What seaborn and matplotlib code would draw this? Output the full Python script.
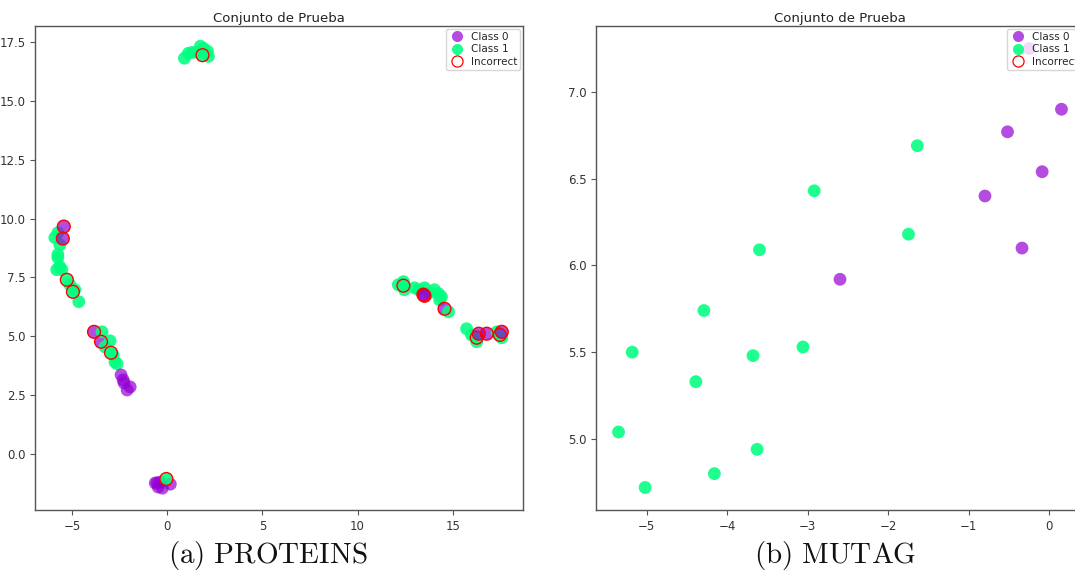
import numpy as np
import pandas as pd
import matplotlib
matplotlib.use("Agg")
import matplotlib.pyplot as plt
from matplotlib.lines import Line2D
import seaborn as sns

# ---------------- data: PROTEINS ----------------
prot_x = [0.90, 1.11, 1.32, 1.58, 1.74, 1.90, 2.11, 2.16, 1.85,
          -5.75, -5.91, -5.65, -5.75, -5.75, -5.65, -5.81, -5.54, -5.28, -5.12, -4.96, -4.86, -4.65,
          -5.44, -5.49,
          -3.85, -3.48,
          -3.43, -3.01, -3.27, -2.96, -2.75, -2.64, -2.85,
          -2.43, -2.32, -2.27, -1.95, -2.11,
          -0.63, -0.48, -0.26, -0.53, 0.16, -0.37, -0.05,
          12.14, 12.41, 12.46, 12.41, 12.99, 13.20, 13.52, 13.78, 14.04, 14.26, 14.31, 14.41,
          13.46, 13.52, 14.57, 14.78,
          15.73, 15.99, 16.26, 16.26, 16.37, 16.79,
          17.32, 17.42, 17.58, 17.48, 17.58]
prot_y = [16.81, 17.02, 17.06, 17.06, 17.32, 17.23, 17.11, 16.89, 16.94,
          9.40, 9.19, 8.89, 8.47, 8.34, 7.96, 7.83, 7.83, 7.40, 7.19, 6.89, 6.98, 6.47,
          9.66, 9.15,
          5.19, 4.77,
          5.19, 4.81, 4.55, 4.30, 3.91, 3.83, 4.21,
          3.36, 3.15, 3.02, 2.85, 2.72,
          -1.23, -1.40, -1.45, -1.23, -1.28, -1.19, -1.06,
          7.19, 7.32, 6.98, 7.15, 7.06, 6.98, 7.06, 6.85, 6.98, 6.81, 6.55, 6.68,
          6.77, 6.72, 6.17, 6.04,
          5.32, 5.06, 4.94, 4.77, 5.11, 5.11,
          5.19, 5.06, 4.94, 5.06, 5.19]
prot_class = [1, 1, 1, 1, 1, 1, 1, 1, 1,
              1, 1, 1, 1, 1, 1, 1, 1, 1, 1, 1, 1, 1,
              0, 0,
              0, 0,
              1, 1, 1, 1, 1, 1, 1,
              0, 0, 0, 0, 0,
              0, 0, 0, 0, 0, 0, 1,
              1, 1, 1, 1, 1, 1, 1, 1, 1, 1, 1, 1,
              0, 0, 0, 1,
              1, 1, 1, 1, 0, 0,
              1, 1, 1, 1, 0]
prot_wrong = [0, 0, 0, 0, 0, 0, 0, 0, 1,
              0, 0, 0, 0, 0, 0, 0, 0, 1, 0, 1, 0, 0,
              1, 1,
              1, 1,
              0, 0, 0, 1, 0, 0, 0,
              0, 0, 0, 0, 0,
              0, 0, 0, 0, 0, 0, 1,
              0, 0, 0, 1, 0, 0, 0, 0, 0, 0, 0, 0,
              1, 1, 1, 0,
              0, 0, 1, 0, 1, 1,
              0, 0, 0, 1, 1]

# ---------------- data: MUTAG ----------------
mut_x = [-1.64, -2.92, -3.60, -1.75, -4.29, -5.18, -3.68, -3.06, -4.39, -5.35, -3.63, -4.16, -5.02,
         -2.60, 0.15, -0.52, -0.09, -0.80, -0.34, -0.25]
mut_y = [6.69, 6.43, 6.09, 6.18, 5.74, 5.50, 5.48, 5.53, 5.33, 5.04, 4.94, 4.80, 4.72,
         5.92, 6.90, 6.77, 6.54, 6.40, 6.10, 7.25]
mut_class = [1, 1, 1, 1, 1, 1, 1, 1, 1, 1, 1, 1, 1,
             0, 0, 0, 0, 0, 0, 0]
mut_wrong = [0] * 20

class_names = ["Class 0", "Class 1"]
title = "Conjunto de Prueba"
captions = ["(a) PROTEINS", "(b) MUTAG"]

# ---------------- style ----------------
sns.set_style("ticks")
plt.rcParams["font.family"] = ["DejaVu Sans"]
plt.rcParams["mathtext.fontset"] = "cm"
plt.rcParams["axes.edgecolor"] = "#555555"
plt.rcParams["xtick.color"] = "#555555"
plt.rcParams["ytick.color"] = "#555555"
plt.rcParams["xtick.labelcolor"] = "#333333"
plt.rcParams["ytick.labelcolor"] = "#333333"

purple = (0.58, 0.0, 0.83, 0.7)
green = (0.0, 1.0, 0.5, 0.88)
palette = {"Class 0": purple, "Class 1": green}

fig = plt.figure(figsize=(10.75, 5.77), dpi=100)
ax1 = fig.add_axes([0.0326, 0.116, 0.454, 0.839])
ax2 = fig.add_axes([0.5544, 0.116, 0.454, 0.839])


def draw(ax, xs, ys, cls, wrong, xlim, ylim, yticks):
    df = pd.DataFrame({"x": xs, "y": ys,
                       "cls": [class_names[c] for c in cls],
                       "wrong": wrong})
    sns.scatterplot(data=df, x="x", y="y", hue="cls", palette=palette,
                    hue_order=class_names, s=85, linewidth=0, ax=ax, legend=False)
    bad = df[df["wrong"] == 1]
    if len(bad):
        sns.scatterplot(data=bad, x="x", y="y", s=85, facecolor="none",
                        edgecolor="red", linewidth=1.0, ax=ax, legend=False)
    ax.set_xlim(*xlim)
    ax.set_ylim(*ylim)
    ax.set_yticks(yticks)
    ax.set_xlabel("")
    ax.set_ylabel("")
    ax.set_title(title, fontsize=9.5, color="#222222", pad=3)
    for sp in ax.spines.values():
        sp.set_visible(True)
        sp.set_linewidth(1.0)
    ax.tick_params(labelsize=8.5, length=3.5, width=0.8)
    handles = [
        Line2D([], [], marker="o", linestyle="", markersize=8, markerfacecolor=purple,
               markeredgewidth=0, label="Class 0"),
        Line2D([], [], marker="o", linestyle="", markersize=8, markerfacecolor=green,
               markeredgewidth=0, label="Class 1"),
        Line2D([], [], marker="o", linestyle="", markersize=8, markerfacecolor="none",
               markeredgecolor="red", markeredgewidth=0.9, label="Incorrect"),
    ]
    ax.legend(handles=handles, loc="upper right", fontsize=7.5, frameon=True,
              handletextpad=0.5, borderpad=0.3, labelspacing=0.25,
              borderaxespad=0.25, handlelength=1.6)


draw(ax1, prot_x, prot_y, prot_class, prot_wrong, (-6.95, 18.7), (-2.38, 18.18),
     [0.0, 2.5, 5.0, 7.5, 10.0, 12.5, 15.0, 17.5])
draw(ax2, mut_x, mut_y, mut_class, mut_wrong, (-5.63, 0.43), (4.59, 7.38),
     [5.0, 5.5, 6.0, 6.5, 7.0])

for cx, cap in zip([0.249, 0.777], captions):
    fig.text(cx, 0.008, r"$\mathrm{" + cap.replace(" ", r"\ ") + "}$",
             ha="center", va="bottom", fontsize=21, color="#111111")

fig.savefig("out.png", dpi=100)
